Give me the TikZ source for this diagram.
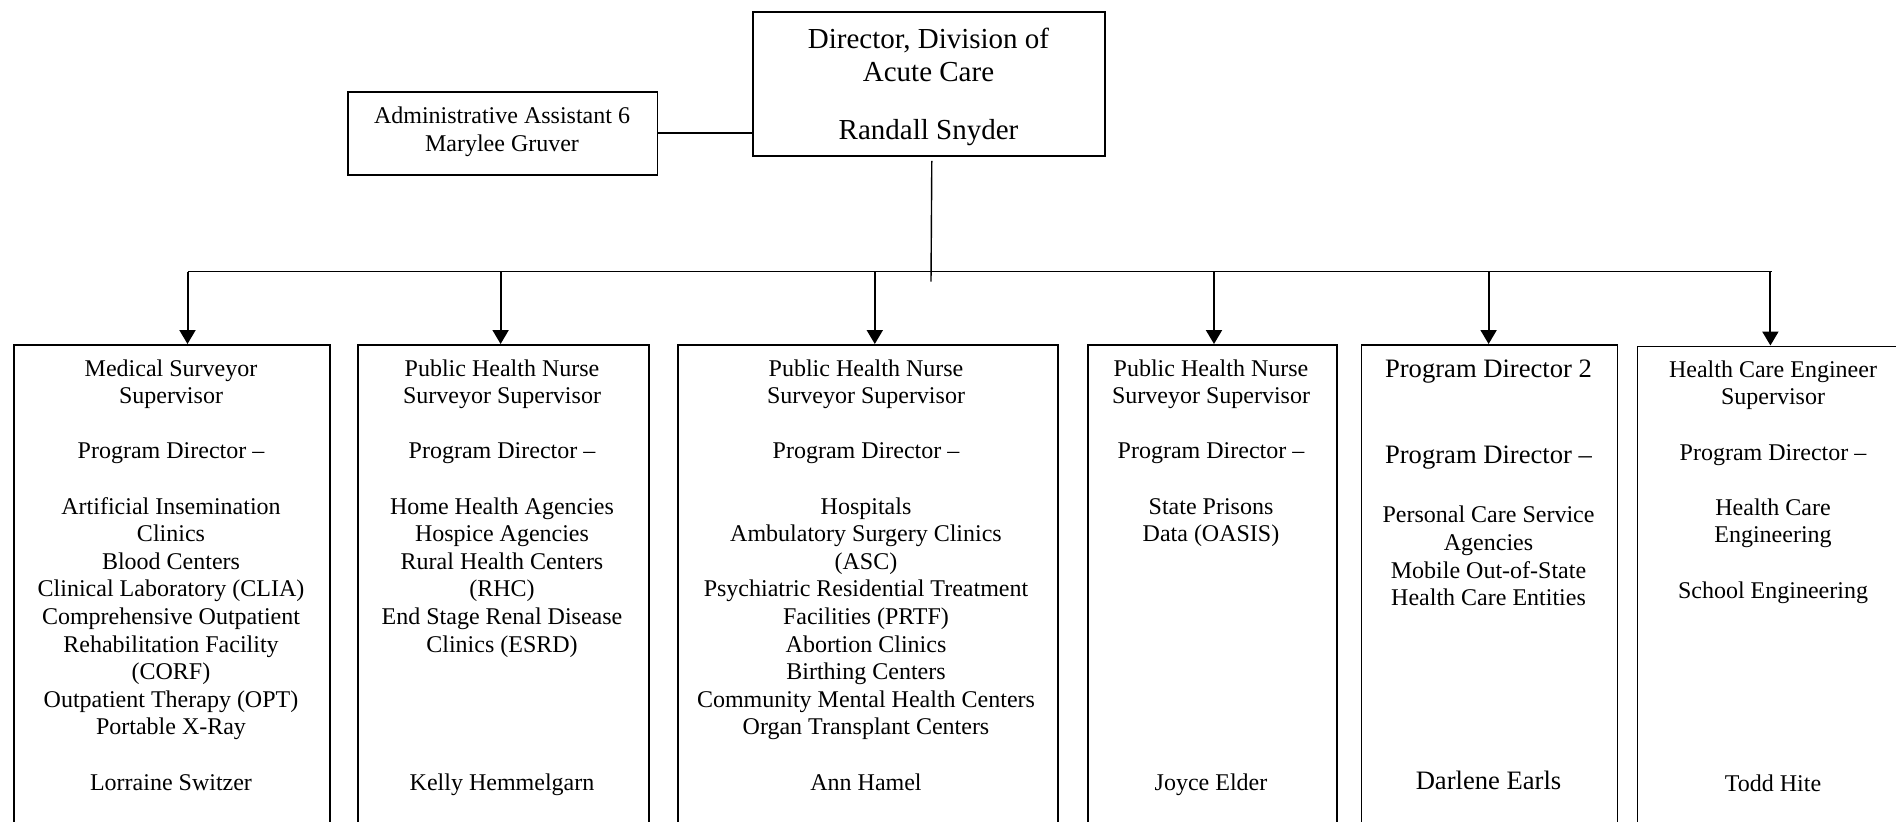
\documentclass[tikz,border=0pt]{standalone}
\usepackage{fontspec}
\setmainfont{Liberation Serif}
\usetikzlibrary{arrows.meta}
\tikzset{
  box/.style={draw, line width=0.9pt, rectangle, inner sep=0pt, anchor=north west},
  conn/.style={line width=0.8pt},
  busline/.style={line width=0.95pt},
  arr/.style={line width=1pt, -{Triangle[width=8pt,length=7pt]}},
  tx/.style={anchor=base, inner sep=0pt, font=\fontsize{12}{13.8}\selectfont},
  big/.style={anchor=base, inner sep=0pt, font=\fontsize{13.3}{15.3}\selectfont},
  dirf/.style={anchor=base, inner sep=0pt, font=\fontsize{14.5}{16.7}\selectfont}
}
\begin{document}
\begin{tikzpicture}[x=0.5pt,y=-0.5pt]
\useasboundingbox (0,0) rectangle (1896,821);
\clip (0,0) rectangle (1896,821);

% top boxes
\node[box, minimum width=176pt, minimum height=72pt] (dir) at (752.4,11) {};
\node[dirf] (dirl1) at (928.5,48.3) {Director, Division of};
\node[dirf] (dirl2) at (928.5,81.7) {Acute Care};
\node[dirf] (dirl3) at (928.5,139.3) {Randall Snyder};

\node[box, minimum width=154.75pt, minimum height=41.5pt] (admin) at (347,90.7) {};
\node[tx] (adml1) at (502,123.3) {Administrative Assistant 6};
\node[tx] (adml2) at (502,151.7) {Marylee Gruver};

% lower boxes
\node[box, minimum width=157.85pt, minimum height=250pt] (b1) at (13.3,344) {};
\node[box, minimum width=145.65pt, minimum height=250pt] (b2) at (356.7,344) {};
\node[box, minimum width=190pt,    minimum height=250pt] (b3) at (677,344) {};
\node[box, minimum width=124.5pt,  minimum height=250pt] (b4) at (1087,344) {};
\node[box, minimum width=128pt,    minimum height=250pt] (b5) at (1360.6,344) {};
\node[box, minimum width=145pt,    minimum height=250pt] (b6) at (1636.5,345.5) {};

% connectors
\draw[conn] (admin.east) -- ([xshift=1pt]admin.east -| dir.west);
\coordinate (stem) at (931,281.5);
\draw[line width=0.7pt] ([xshift=1.25pt,yshift=-2pt]dir.south) -- (stem);
\coordinate (busL) at (187.5,271.5);
\coordinate (busR) at (1771.7,271.5);
\draw[busline] (busL) -- (busR);
\coordinate (a1) at (187.5,271.5);
\coordinate (a2) at (500.6,271.5);
\coordinate (a3) at (874.8,271.5);
\coordinate (a4) at (1214,271.5);
\coordinate (a5) at (1488.6,271.5);
\coordinate (a6) at (1770.4,271.5);
\draw[arr] (a1) -- (a1 |- b1.north);
\draw[arr] (a2) -- (a2 |- b2.north);
\draw[arr] (a3) -- (a3 |- b3.north);
\draw[arr] (a4) -- (a4 |- b4.north);
\draw[arr] (a5) -- (a5 |- b5.north);
\draw[arr] (a6) -- (a6 |- b6.north);

% box 1
\foreach \i/\l in {0/Medical Surveyor, 1/Supervisor, 3/Program Director –,
  5/Artificial Insemination, 6/Clinics, 7/Blood Centers, 8/Clinical Laboratory (CLIA),
  9/Comprehensive Outpatient, 10/Rehabilitation Facility, 11/(CORF),
  12/Outpatient Therapy (OPT), 13/Portable X-Ray, 15/Lorraine Switzer}
  \node[tx] (b1l\i) at (171,{376+27.6*\i}) {\l};

% box 2
\foreach \i/\l in {0/Public Health Nurse, 1/Surveyor Supervisor, 3/Program Director –,
  5/Home Health Agencies, 6/Hospice Agencies, 7/Rural Health Centers, 8/(RHC),
  9/End Stage Renal Disease, 10/Clinics (ESRD), 15/Kelly Hemmelgarn}
  \node[tx] (b2l\i) at (502,{376+27.6*\i}) {\l};

% box 3
\foreach \i/\l in {0/Public Health Nurse, 1/Surveyor Supervisor, 3/Program Director –,
  5/Hospitals, 6/Ambulatory Surgery Clinics, 7/(ASC), 8/Psychiatric Residential Treatment,
  9/Facilities (PRTF), 10/Abortion Clinics, 11/Birthing Centers,
  12/Community Mental Health Centers, 13/Organ Transplant Centers, 15/Ann Hamel}
  \node[tx] (b3l\i) at (866,{376+27.6*\i}) {\l};

% box 4
\foreach \i/\l in {0/Public Health Nurse, 1/Surveyor Supervisor, 3/Program Director –,
  5/State Prisons, 6/Data (OASIS), 15/Joyce Elder}
  \node[tx] (b4l\i) at (1211,{376+27.6*\i}) {\l};

% box 5
\node[big] (b5t1) at (1488.5,377.3) {Program Director 2};
\node[big] (b5t2) at (1488.5,463.3) {Program Director –};
\foreach \i/\l in {0/Personal Care Service, 1/Agencies, 2/Mobile Out-of-State, 3/Health Care Entities}
  \node[tx] (b5l\i) at (1488.5,{522.7+27.7*\i}) {\l};
\node[big] (b5n) at (1488.5,789) {Darlene Earls};

% box 6
\foreach \i/\l in {0/Health Care Engineer, 1/Supervisor, 3/Program Director –,
  5/Health Care, 6/Engineering, 8/School Engineering, 15/Todd Hite}
  \node[tx] (b6l\i) at (1773,{377.3+27.6*\i}) {\l};
\end{tikzpicture}
\end{document}
